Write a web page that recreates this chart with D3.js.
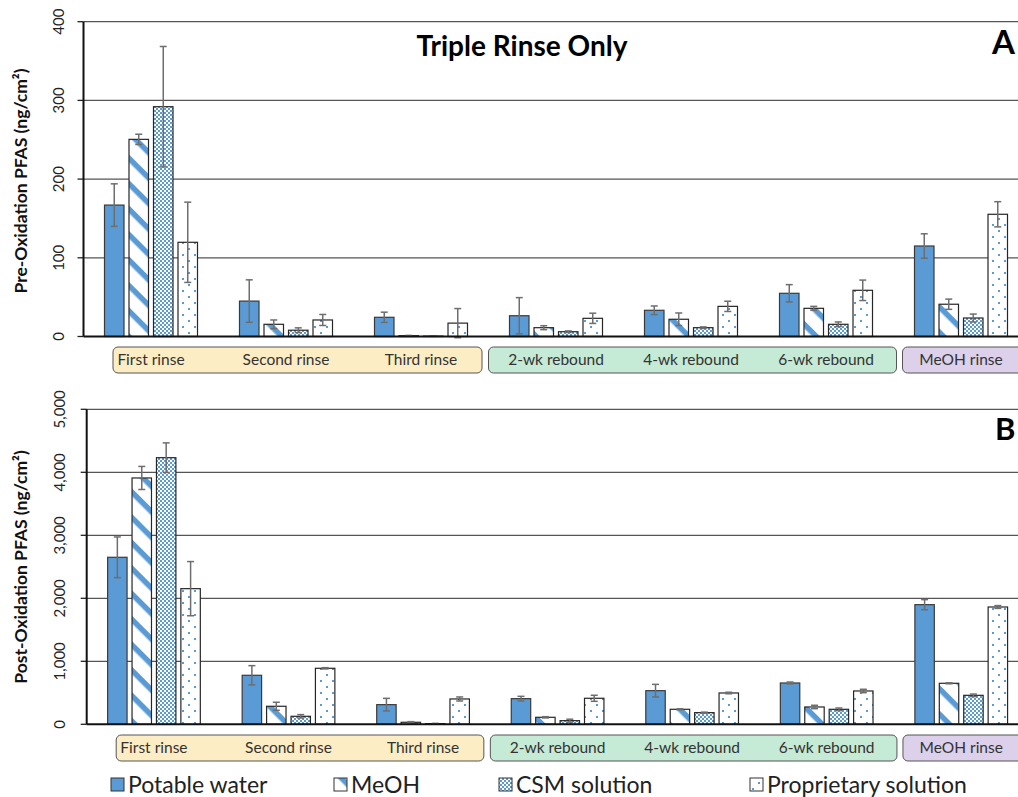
<!DOCTYPE html>
<html>
<head>
<meta charset="utf-8">
<script src="https://cdn.jsdelivr.net/npm/d3@7"></script>
<style>
  html, body { margin: 0; padding: 0; background: #fff; }
  svg { display: block; font-family: Lato, "Open Sans", sans-serif; }
</style>
</head>
<body>
<svg id="chart" width="1018" height="797"></svg>
<script>
// Rinse stages along the x axis
const categories = ["First rinse", "Second rinse", "Third rinse", "2-wk rebound", "4-wk rebound", "6-wk rebound", "MeOH rinse"];
const seriesNames = ["Potable water", "MeOH", "CSM solution", "Proprietary solution"];

// Stage boxes drawn under the axis (first and last category index in each box)
const stageGroups = [
  { from: 0, to: 2, fill: "#fdedc4" },
  { from: 3, to: 5, fill: "#c5ead5" },
  { from: 6, to: 6, fill: "#dcd0ea" }
];

// Panel A: pre-oxidation PFAS (ng/cm²), mean and error per rinse stage
const preMean = {
  "Potable water":        [167, 45, 24.4, 26.4, 33.3, 54.9, 115],
  "MeOH":                 [250.5, 15.5, 1, 11.2, 21.9, 35.8, 41],
  "CSM solution":         [292, 8, 0.5, 6.1, 11.2, 15.5, 23.5],
  "Proprietary solution": [119.7, 21, 17, 23.1, 38.3, 58.7, 155.3]
};
const preErr = {
  "Potable water":        [27, 27, 6.5, 23, 5.5, 11, 15.5],
  "MeOH":                 [6.5, 5.5, 0.4, 2.5, 8, 2.5, 6.5],
  "CSM solution":         [76.5, 3, 0.3, 1, 1, 3, 5],
  "Proprietary solution": [51, 7, 18.5, 6.5, 6.5, 13, 16]
};

// Panel B: post-oxidation PFAS (ng/cm²)
const postMean = {
  "Potable water":        [2651, 778, 312, 407, 534, 656, 1899],
  "MeOH":                 [3910, 286, 32, 111, 238, 275, 651],
  "CSM solution":         [4232, 127, 10, 58, 185, 238, 460],
  "Proprietary solution": [2153, 889, 402, 413, 497, 529, 1862]
};
const postErr = {
  "Potable water":        [323, 153, 100, 37, 100, 15, 80],
  "MeOH":                 [183, 64, 10, 10, 8, 27, 8],
  "CSM solution":         [235, 27, 5, 23, 8, 21, 20],
  "Proprietary solution": [430, 10, 32, 48, 12, 27, 22]
};

const preTicks = [0, 100, 200, 300, 400];
const postTicks = [0, 1000, 2000, 3000, 4000, 5000];

const BLUE = "#5b9bd5";
const svg = d3.select("#chart");
const defs = svg.append("defs");

// Fill patterns for the four rinse solutions
const pStripe = defs.append("pattern").attr("id", "pat-meoh")
  .attr("patternUnits", "userSpaceOnUse").attr("width", 18).attr("height", 18)
  .attr("patternTransform", "rotate(45)");
pStripe.append("rect").attr("width", 18).attr("height", 18).attr("fill", "#fff");
pStripe.append("rect").attr("x", 0).attr("y", 0).attr("width", 18).attr("height", 5.5).attr("fill", BLUE);

const pCheck = defs.append("pattern").attr("id", "pat-csm")
  .attr("patternUnits", "userSpaceOnUse").attr("width", 4).attr("height", 4);
pCheck.append("rect").attr("width", 4).attr("height", 4).attr("fill", "#fff");
pCheck.append("rect").attr("x", 0).attr("y", 0).attr("width", 2).attr("height", 2).attr("fill", BLUE);
pCheck.append("rect").attr("x", 2).attr("y", 2).attr("width", 2).attr("height", 2).attr("fill", BLUE);

const pDot = defs.append("pattern").attr("id", "pat-prop")
  .attr("patternUnits", "userSpaceOnUse").attr("width", 12).attr("height", 12);
pDot.append("rect").attr("width", 12).attr("height", 12).attr("fill", "#fff");
pDot.append("rect").attr("x", 2).attr("y", 2).attr("width", 2).attr("height", 2).attr("fill", BLUE);
pDot.append("rect").attr("x", 8).attr("y", 8).attr("width", 2).attr("height", 2).attr("fill", BLUE);

const fills = {
  "Potable water": BLUE,
  "MeOH": "url(#pat-meoh)",
  "CSM solution": "url(#pat-csm)",
  "Proprietary solution": "url(#pat-prop)"
};
const strokes = {
  "Potable water": "#3a3a3a",
  "MeOH": "#262626",
  "CSM solution": "#262626",
  "Proprietary solution": "#262626"
};

// left/right insets of each stage box relative to its category bands
const boxInsets = [[29.5, 6.5], [0, -3], [9, -20]];

function drawPanel(opts) {
  const g = svg.append("g");
  const x0 = d3.scaleBand().domain(categories).range([opts.left, opts.right]).padding(0);
  const x1 = d3.scaleBand().domain(seriesNames).range([0, x0.bandwidth()])
    .paddingInner(0.204).paddingOuter(0.857);
  const y = d3.scaleLinear().domain([0, opts.ticks[opts.ticks.length - 1]]).range([opts.bottom, opts.top]);

  // horizontal gridlines
  g.append("g").selectAll("line").data(opts.ticks.filter(t => t > 0)).join("line")
    .attr("x1", opts.left).attr("x2", 1018)
    .attr("y1", d => y(d)).attr("y2", d => y(d))
    .attr("stroke", "#555").attr("stroke-width", 1.3);

  // y axis ticks and labels
  const ax = g.append("g");
  ax.selectAll("line.tick").data(opts.ticks).join("line").attr("class", "tick")
    .attr("x1", opts.left - 6).attr("x2", opts.left)
    .attr("y1", d => y(d)).attr("y2", d => y(d))
    .attr("stroke", "#222").attr("stroke-width", 1.3);
  ax.selectAll("text").data(opts.ticks).join("text")
    .attr("transform", d => `translate(${opts.labelX},${y(d)}) rotate(-90)`)
    .attr("text-anchor", "middle")
    .attr("font-size", 15).attr("fill", "#222")
    .text(d => d3.format(",")(d));

  // axis title
  g.append("text")
    .attr("transform", `translate(27,${opts.titleY}) rotate(-90)`)
    .attr("text-anchor", "middle")
    .attr("font-size", 17.5).attr("font-weight", "bold").attr("fill", "#111")
    .text(opts.title);

  // bars
  const rows = [];
  categories.forEach((c, i) => {
    seriesNames.forEach(s => {
      rows.push({ cat: c, series: s, v: opts.mean[s][i], e: opts.err[s][i] });
    });
  });
  const bars = g.append("g");
  bars.selectAll("rect").data(rows).join("rect")
    .attr("x", d => x0(d.cat) + x1(d.series))
    .attr("y", d => y(d.v))
    .attr("width", x1.bandwidth())
    .attr("height", d => y(0) - y(d.v))
    .attr("fill", d => fills[d.series])
    .attr("stroke", d => strokes[d.series])
    .attr("stroke-width", 1.2);

  // error bars
  const eb = g.append("g").attr("stroke", "#6e6e6e").attr("stroke-width", 1.5);
  rows.forEach(d => {
    const cx = x0(d.cat) + x1(d.series) + x1.bandwidth() / 2;
    const yt = y(d.v + d.e), yb = y(Math.max(d.v - d.e, -opts.ticks[1] * 0.05));
    eb.append("line").attr("x1", cx).attr("x2", cx).attr("y1", yt).attr("y2", yb);
    eb.append("line").attr("x1", cx - 3.5).attr("x2", cx + 3.5).attr("y1", yt).attr("y2", yt);
    eb.append("line").attr("x1", cx - 3.5).attr("x2", cx + 3.5).attr("y1", yb).attr("y2", yb);
  });

  // axis lines
  g.append("line").attr("x1", opts.left).attr("x2", opts.left)
    .attr("y1", opts.top).attr("y2", opts.bottom)
    .attr("stroke", "#111").attr("stroke-width", 2);
  g.append("line").attr("x1", opts.left).attr("x2", 1018)
    .attr("y1", opts.bottom).attr("y2", opts.bottom)
    .attr("stroke", "#111").attr("stroke-width", 2);

  // stage boxes with category labels
  const boxes = g.append("g");
  stageGroups.forEach((sg, i) => {
    const xs = x0(categories[sg.from]) + boxInsets[i][0];
    const xe = x0(categories[sg.to]) + x0.bandwidth() - boxInsets[i][1];
    boxes.append("rect")
      .attr("x", xs).attr("y", opts.boxTop)
      .attr("width", xe - xs).attr("height", 26)
      .attr("rx", 5).attr("ry", 5)
      .attr("fill", sg.fill).attr("stroke", "#555").attr("stroke-width", 1);
  });
  boxes.selectAll("text").data(categories).join("text")
    .attr("x", d => x0(d) + x0.bandwidth() / 2)
    .attr("y", opts.boxTop + 18)
    .attr("text-anchor", "middle")
    .attr("font-size", 15.5).attr("fill", "#333")
    .text(d => d);

  // panel letter
  g.append("text").attr("x", opts.letterX).attr("y", opts.letterY)
    .attr("font-size", opts.letterSize).attr("font-weight", "bold").attr("fill", "#000")
    .text(opts.letter);
}

drawPanel({
  left: 83.5, right: 1028.5, top: 21.7, bottom: 336.5,
  ticks: preTicks, mean: preMean, err: preErr,
  labelX: 63.5, title: "Pre-Oxidation PFAS (ng/cm²)", titleY: 181,
  boxTop: 347, letter: "A", letterX: 992, letterY: 54, letterSize: 33
});

drawPanel({
  left: 86.7, right: 1028.5, top: 409.3, bottom: 724.3,
  ticks: postTicks, mean: postMean, err: postErr,
  labelX: 65, title: "Post-Oxidation PFAS (ng/cm²)", titleY: 567,
  boxTop: 735, letter: "B", letterX: 995, letterY: 440, letterSize: 31
});

// chart title
svg.append("text").attr("x", 522).attr("y", 56)
  .attr("text-anchor", "middle")
  .attr("font-size", 28).attr("font-weight", "bold").attr("fill", "#000")
  .text("Triple Rinse Only");

// legend
const legendX = [111, 334, 499, 750];
const lg = svg.append("g");
seriesNames.forEach((s, i) => {
  lg.append("rect").attr("x", legendX[i]).attr("y", 778).attr("width", 13).attr("height", 13)
    .attr("fill", fills[s]).attr("stroke", "#333").attr("stroke-width", 1);
  lg.append("text").attr("x", legendX[i] + 17).attr("y", 793)
    .attr("font-size", 23).attr("fill", "#222").text(s);
});
</script>
</body>
</html>
